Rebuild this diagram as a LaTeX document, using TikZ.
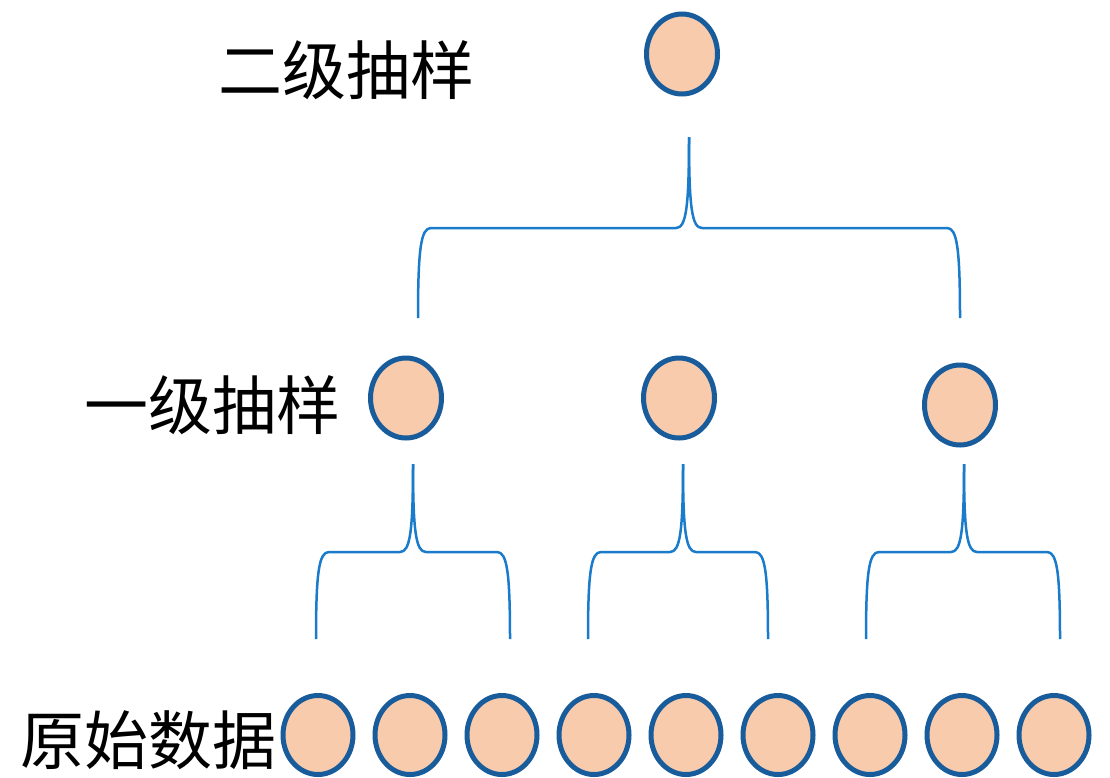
\documentclass[tikz,border=0pt]{standalone}
\usepackage{fontspec}
\newfontfamily\cjk{Noto Sans CJK SC}
\usetikzlibrary{shapes.geometric}
\definecolor{peach}{HTML}{F8CBAD}
\definecolor{ringblue}{HTML}{185C9C}
\definecolor{braceblue}{HTML}{1A7BCB}
\tikzset{
  dot/.style={ellipse, draw=ringblue, fill=peach, line width=5pt, minimum width=71pt, minimum height=80pt, inner sep=0pt},
  lbl/.style={font=\cjk\fontsize{64}{64}\selectfont, inner sep=0pt},
  brace/.style={draw=braceblue, line width=2.5pt}
}
\newcommand\mybrace[6]{% left x, tip x, right x, tip y, mid y, bottom y
  \draw[brace] (#1,#6) .. controls (#1,#5+20) and (#1+3,#5) .. (#1+13,#5)
    -- (#2-13,#5) .. controls (#2-3,#5) and (#2,#5-20) .. (#2,#4);
  \draw[brace] (#3,#6) .. controls (#3,#5+20) and (#3-3,#5) .. (#3-13,#5)
    -- (#2+13,#5) .. controls (#2+3,#5) and (#2,#5-20) .. (#2,#4);
}
\begin{document}
\begin{tikzpicture}[x=1pt,y=-1pt]
\useasboundingbox (0,0) rectangle (1110,777);
% labels
\node[lbl] (l2) at (346,70) {二级抽样};
\node[lbl] (l1) at (212,405) {一级抽样};
\node[lbl] (l0) at (148,740) {原始数据};
% top
\node[dot] (t) at (682,54) {};
% level 1
\node[dot] (a1) at (406,398) {};
\node[dot] (a2) at (679,398) {};
\node[dot] (a3) at (960,405) {};
% bottom
\foreach \i in {0,...,8} {
  \node[dot, minimum width=70pt, minimum height=79pt] (b\i) at (318+92*\i,735) {};
}
% braces
\mybrace{418}{689}{960}{137}{228}{318}
\mybrace{316}{413}{510}{464}{552}{639}
\mybrace{588}{683}{768}{464}{552}{639}
\mybrace{866}{964}{1060}{464}{552}{639}
\end{tikzpicture}
\end{document}
